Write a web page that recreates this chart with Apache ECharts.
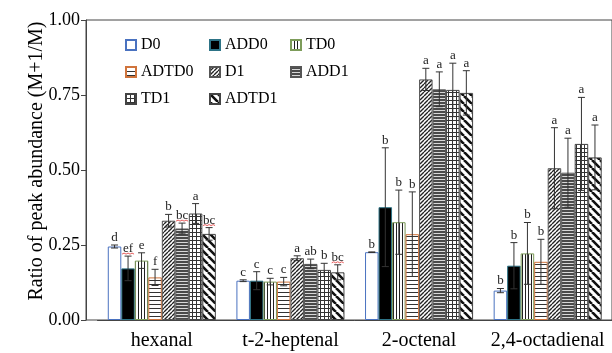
<!DOCTYPE html>
<html>
<head>
<meta charset="utf-8">
<script src="https://cdn.jsdelivr.net/npm/echarts@6/dist/echarts.min.js"></script>
<style>
  html, body { margin: 0; padding: 0; background: #fff; }
  #chart { width: 612px; height: 353px; }
</style>
</head>
<body>
<div id="chart"></div>
<script>
// categories and groups
const categories = ['hexanal', 't-2-heptenal', '2-octenal', '2,4-octadienal']
const seriesNames = ['D0', 'ADD0', 'TD0', 'ADTD0', 'D1', 'ADD1', 'TD1', 'ADTD1']
const yTicks = [0, 0.25, 0.5, 0.75, 1]

// means
const D0 = [0.245, 0.131, 0.226, 0.098]
const ADD0 = [0.172, 0.131, 0.376, 0.181]
const TD0 = [0.198, 0.128, 0.326, 0.222]
const ADTD0 = [0.142, 0.128, 0.286, 0.194]
const D1 = [0.331, 0.206, 0.802, 0.506]
const ADD1 = [0.305, 0.187, 0.769, 0.491]
const TD1 = [0.355, 0.167, 0.767, 0.587]
const ADTD1 = [0.287, 0.159, 0.757, 0.542]

// standard deviations
const D0_err = [0.005, 0.003, 0.001, 0.007]
const ADD0_err = [0.041, 0.030, 0.198, 0.077]
const TD0_err = [0.026, 0.011, 0.107, 0.103]
const ADTD0_err = [0.027, 0.014, 0.141, 0.075]
const D1_err = [0.021, 0.008, 0.037, 0.135]
const ADD1_err = [0.018, 0.016, 0.058, 0.115]
const TD1_err = [0.033, 0.022, 0.089, 0.155]
const ADTD1_err = [0.021, 0.025, 0.074, 0.108]

// significance letters
const D0_sig = ['d', 'c', 'b', 'b']
const ADD0_sig = ['ef', 'c', 'b', 'b']
const TD0_sig = ['e', 'c', 'b', 'b']
const ADTD0_sig = ['f', 'c', 'b', 'b']
const D1_sig = ['b', 'a', 'a', 'a']
const ADD1_sig = ['bc', 'ab', 'a', 'a']
const TD1_sig = ['a', 'b', 'a', 'a']
const ADTD1_sig = ['bc', 'bc', 'a', 'a']
// letters the word processor marked with a red squiggle
const squiggled = ['ef', 'bc']

const means = [D0, ADD0, TD0, ADTD0, D1, ADD1, TD1, ADTD1]
const errs = [D0_err, ADD0_err, TD0_err, ADTD0_err, D1_err, ADD1_err, TD1_err, ADTD1_err]
const sigs = [D0_sig, ADD0_sig, TD0_sig, ADTD0_sig, D1_sig, ADD1_sig, TD1_sig, ADTD1_sig]

const FONT = 'Liberation Serif'
const GAP = 0.16

// canvas fill patterns
function pattern(size, draw, bg) {
  const c = document.createElement('canvas')
  c.width = size
  c.height = size
  const ctx = c.getContext('2d')
  ctx.fillStyle = bg || '#fff'
  ctx.fillRect(0, 0, size, size)
  draw(ctx, size)
  return { image: c, repeat: 'repeat' }
}
function diag(ctx, s, dir, w, col) {
  ctx.strokeStyle = col
  ctx.lineWidth = w
  ctx.beginPath()
  for (let k = -1; k <= 1; k++) {
    if (dir > 0) { ctx.moveTo(k * s, s); ctx.lineTo(k * s + s, 0) }
    else { ctx.moveTo(k * s, 0); ctx.lineTo(k * s + s, s) }
  }
  ctx.stroke()
}

const styles = [
  { color: '#ffffff', borderColor: '#4a72c0' },
  { color: '#000000', borderColor: '#2d7386' },
  { color: pattern(3, (ctx) => { ctx.fillStyle = '#222'; ctx.fillRect(0, 0, 1, 3) }), borderColor: '#7d9c5a' },
  { color: pattern(4, (ctx) => { ctx.fillStyle = '#333'; ctx.fillRect(0, 0, 4, 1) }), borderColor: '#d0743c' },
  { color: pattern(4, (ctx, s) => diag(ctx, s, 1, 1.4, '#222')), borderColor: '#555' },
  { color: pattern(3, (ctx) => { ctx.fillStyle = '#4a4a4a'; ctx.fillRect(0, 0, 3, 2) }, '#d8d8d8'), borderColor: '#555' },
  { color: pattern(4, (ctx) => { ctx.fillStyle = '#333'; ctx.fillRect(0, 0, 1, 4); ctx.fillRect(0, 0, 4, 1) }), borderColor: '#444' },
  { color: pattern(8, (ctx, s) => diag(ctx, s, -1, 2.6, '#111')), borderColor: '#444' }
]

function errRender(i) {
  return function (params, api) {
    const c = api.value(0)
    const m = api.value(1)
    const e = api.value(2)
    const band = api.size([1, 0])[0]
    const bw = band * (1 - GAP) / 8
    const x = api.coord([c, 0])[0] + (i - 3.5) * bw
    const yT = api.coord([c, m + e])[1]
    const yB = api.coord([c, Math.max(m - e, 0)])[1]
    const cap = 3.5
    const st = { stroke: '#333', lineWidth: 1 }
    const label = sigs[i][params.dataIndex]
    const children = [
      { type: 'line', shape: { x1: x, y1: yT, x2: x, y2: yB }, style: st },
      { type: 'line', shape: { x1: x - cap, y1: yT, x2: x + cap, y2: yT }, style: st },
      { type: 'line', shape: { x1: x - cap, y1: yB, x2: x + cap, y2: yB }, style: st },
      {
        type: 'text',
        style: {
          text: label, x: x, y: yT - 1,
          align: 'center', verticalAlign: 'bottom',
          font: '13px "' + FONT + '"', fill: '#222'
        }
      }
    ]
    if (squiggled.indexOf(label) >= 0) {
      const pts = []
      for (let k = 0; k <= 6; k++) pts.push([x - 6 + k * 2, yT - 2 + (k % 2 ? -1 : 0)])
      children.push({ type: 'polyline', shape: { points: pts }, style: { stroke: '#e03030', lineWidth: 0.8, fill: null } })
    }
    return { type: 'group', children: children }
  }
}

const series = []
seriesNames.forEach((name, i) => {
  series.push({
    name: name,
    type: 'bar',
    barGap: 0,
    barCategoryGap: GAP * 100 + '%',
    itemStyle: Object.assign({ borderWidth: 1 }, styles[i]),
    data: means[i]
  })
})
seriesNames.forEach((name, i) => {
  series.push({
    name: name + '_err',
    type: 'custom',
    z: 3,
    renderItem: errRender(i),
    data: categories.map((c, k) => [k, means[i][k], errs[i][k]])
  })
})

const legendBase = {
  orient: 'vertical',
  top: 37,
  padding: 0,
  itemWidth: 10,
  itemHeight: 10,
  itemGap: 11,
  icon: 'rect',
  textStyle: { fontFamily: FONT, fontSize: 16, color: '#000', lineHeight: 16 }
}

const chart = echarts.init(document.getElementById('chart'))
chart.setOption({
  animation: false,
  backgroundColor: '#fff',
  legend: [
    Object.assign({ left: 125, data: ['D0', 'ADTD0', 'TD1'] }, legendBase),
    Object.assign({ left: 209, data: ['ADD0', 'D1', 'ADTD1'] }, legendBase),
    Object.assign({ left: 290, data: ['TD0', 'ADD1'] }, legendBase)
  ],
  grid: [
    { left: 97.5, right: -7.5, top: 20, bottom: 33 },
    { left: 86, right: -30, top: 20, bottom: 33, show: true, borderColor: '#444', borderWidth: 1, backgroundColor: 'transparent' }
  ],
  xAxis: [
    {
      type: 'category',
      data: categories,
      axisLine: { lineStyle: { color: '#444' } },
      axisTick: { length: 5, lineStyle: { color: '#444' } },
      axisLabel: { interval: 0, fontFamily: FONT, fontSize: 20, color: '#000', margin: 11 }
    },
    { type: 'value', gridIndex: 1, show: false }
  ],
  yAxis: [
    {
      type: 'value',
      min: yTicks[0],
      max: yTicks[yTicks.length - 1],
      interval: 0.25,
      offset: 11.5,
      name: 'Ratio of peak abundance (M+1/M)',
      nameLocation: 'middle',
      nameGap: 39,
      nameMoveOverlap: false,
      nameTextStyle: { fontFamily: FONT, fontSize: 20, color: '#000', padding: [0, 0, 0, 18] },
      axisLine: { show: true, lineStyle: { color: '#444' } },
      axisTick: { show: true, length: 5, lineStyle: { color: '#444' } },
      axisLabel: { fontFamily: FONT, fontSize: 18, color: '#000', margin: 6, formatter: (v) => v.toFixed(2) },
      splitLine: { show: false }
    },
    { type: 'value', gridIndex: 1, show: false }
  ],
  series: series
})
</script>
</body>
</html>
